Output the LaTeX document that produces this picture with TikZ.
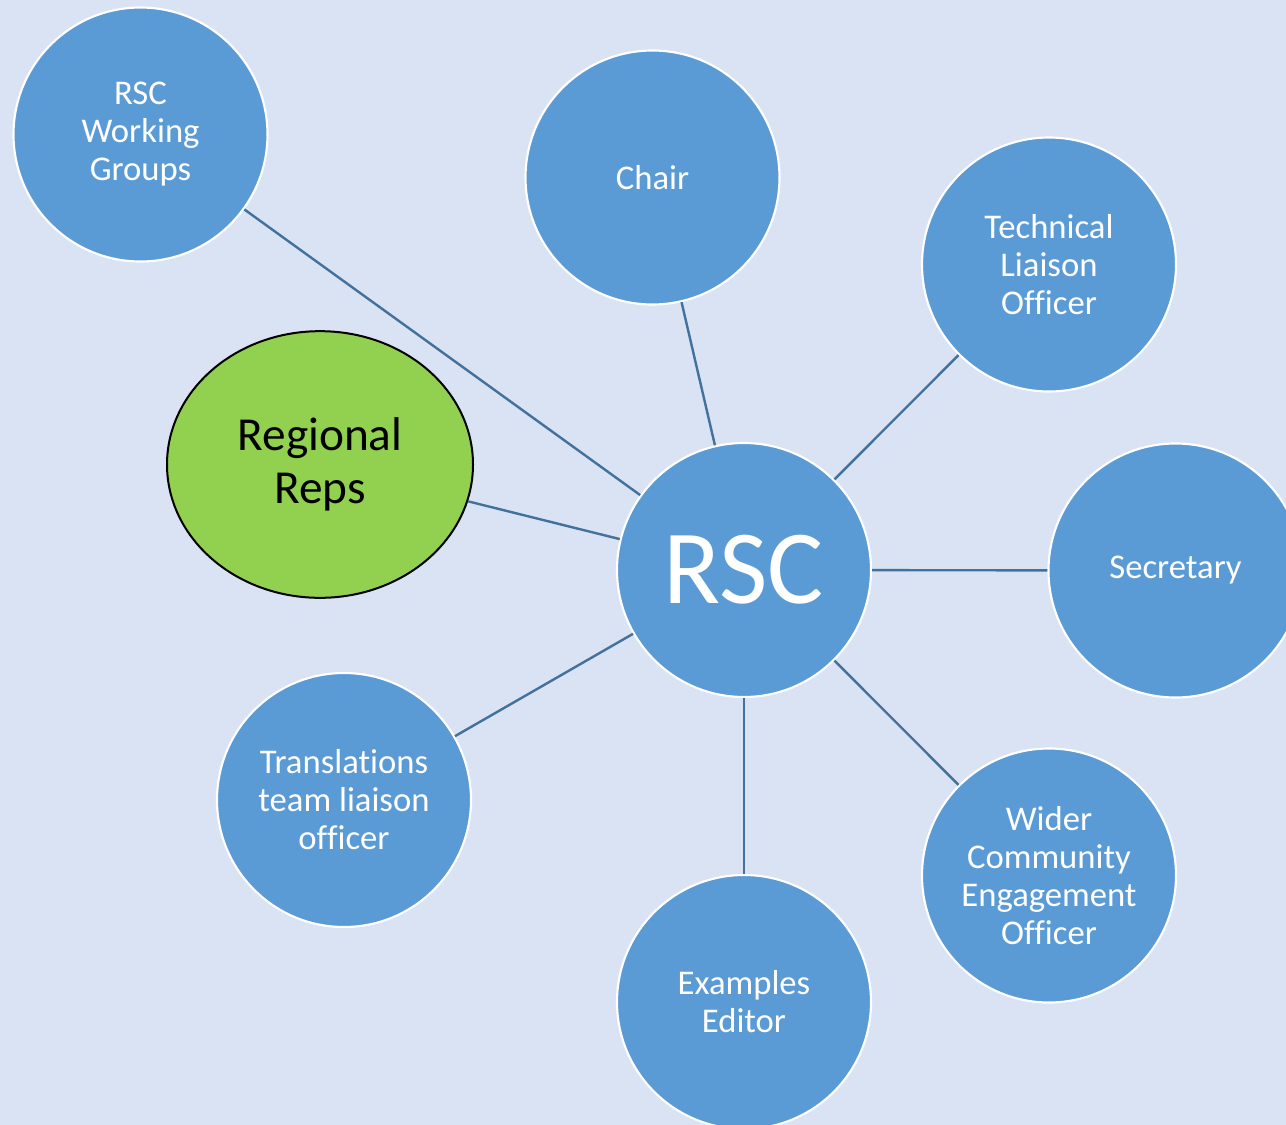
\documentclass[tikz,border=0pt]{standalone}
\usepackage{fontspec}
\setmainfont{Carlito}[Ligatures={NoCommon}]
\usetikzlibrary{shapes.geometric}
\definecolor{bgc}{HTML}{DAE3F3}
\definecolor{nodec}{HTML}{5B9BD5}
\definecolor{linec}{HTML}{41719C}
\definecolor{greenc}{HTML}{92D050}
\begin{document}
\begin{tikzpicture}[x=0.75pt,y=-0.75pt,
  role/.style={circle,draw=white,line width=1.6pt,fill=nodec,minimum size=190.5pt,inner sep=0pt,text=white,align=center,font=\fontsize{26}{28.5}\selectfont},
  hub/.style={role,font=\fontsize{79}{90}\selectfont},
  reps/.style={ellipse,draw=black,line width=1.5pt,fill=greenc,minimum width=229.5pt,minimum height=200pt,inner sep=0pt,align=center,text=black,font=\fontsize{35.5}{40}\selectfont},
  conn/.style={draw=linec,line width=1.8pt}]
\clip (0,0) rectangle (1286,1125);
\fill[bgc] (0,0) rectangle (1286,1125);
\node[hub] (rsc) at (744,570) {RSC};
\node[role] (wg) at (140.5,134.5) {RSC\\Working\\Groups};
\node[role] (chair) at (652.5,177.5) {Chair};
\node[role] (tech) at (1049,264.5) {Technical\\Liaison\\Officer};
\node[role] (sec) at (1175.5,570.5) {Secretary};
\node[role] (wider) at (1049,875.5) {Wider\\Community\\Engagement\\Officer};
\node[role] (ex) at (744,1002) {Examples\\Editor};
\node[role] (trans) at (344,800) {Translations\\team liaison\\officer};
\node[reps] (reps) at (320,464.5) {Regional\\Reps};
\draw[conn] (rsc) -- (wg);
\draw[conn] (rsc) -- (chair);
\draw[conn] (rsc) -- (tech);
\draw[conn] (rsc) -- (sec);
\draw[conn] (rsc) -- (wider);
\draw[conn] (rsc) -- (ex);
\draw[conn] (rsc) -- (trans);
\draw[conn] (rsc) -- (reps);
\end{tikzpicture}
\end{document}
